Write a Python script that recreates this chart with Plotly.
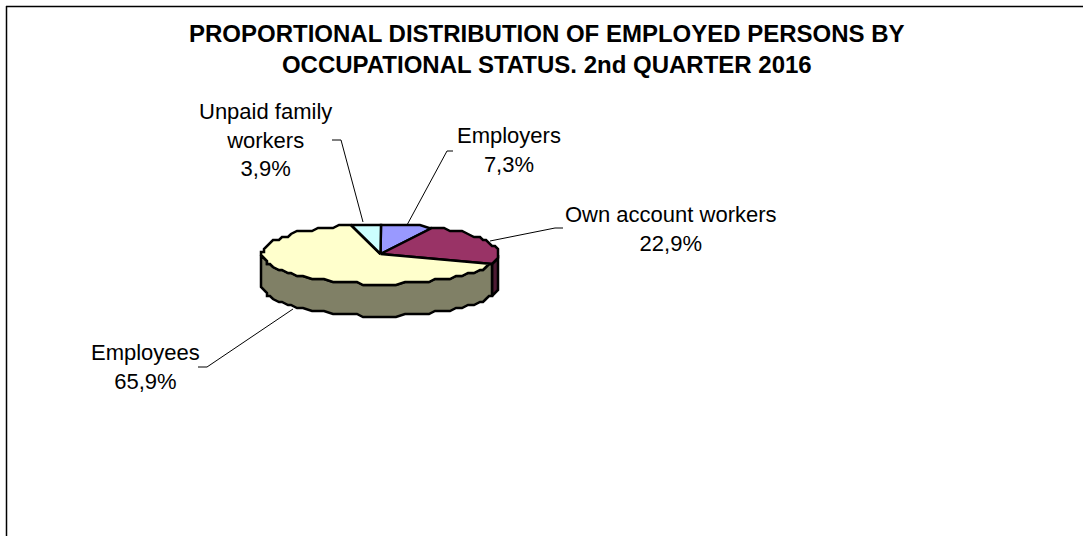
import numpy as np
import plotly.graph_objects as go

categories = ["Employers", "Own account workers", "Employees", "Unpaid family workers"]
values = [7.3, 22.9, 65.9, 3.9]
label_lines = ["Employers<br>7,3%", "Own account workers<br>22,9%", "Employees<br>65,9%", "Unpaid family<br>workers<br>3,9%"]
top_colors = ["#9999FF", "#993366", "#FFFFCC", "#CCFFFF"]
side_colors = ["#4D4D80", "#4D1A33", "#808066", "#668080"]
label_pos = [(509, 150), (671, 229), (145, 367), (265, 140)]
leaders = [
    [(453, 151), (447, 151), (407, 225)],
    [(563, 228), (555, 228), (490, 241)],
    [(198, 367), (207, 367), (293, 309)],
    [(332, 140), (341, 140), (363, 222)],
]
title_text = "PROPORTIONAL DISTRIBUTION OF EMPLOYED PERSONS BY<br>OCCUPATIONAL STATUS. 2nd QUARTER 2016"

CX, CY, RX, RY, DEPTH = 380.5, 254, 118.5, 30, 32
STEP = 3
ARC_STEP = 2 * np.pi / 90
INK = "#000000"


def snap(v):
    return np.round(np.asarray(v) / STEP) * STEP


def ex(a):
    return snap(CX + RX * np.sin(a))


def ey(a):
    return snap(CY - RY * np.cos(a))


def arc(lo, hi):
    inner = np.arange(np.ceil(lo / ARC_STEP + 1e-9), np.floor(hi / ARC_STEP - 1e-9) + 1) * ARC_STEP
    return np.r_[lo, inner, hi]


edges = np.cumsum([0] + values) / sum(values) * 2 * np.pi

fig = go.Figure()

# side walls: only the front half of the cylinder is visible
for i, cat in enumerate(categories):
    lo, hi = max(edges[i], np.pi / 2), min(edges[i + 1], 3 * np.pi / 2)
    if hi <= lo:
        continue
    a = arc(lo, hi)
    xs = np.r_[ex(a), ex(a[::-1]), ex(a[0])]
    ys = np.r_[ey(a), ey(a[::-1]) + DEPTH, ey(a[0])]
    fig.add_trace(go.Scatter(x=xs, y=ys, mode="lines", fill="toself", fillcolor=side_colors[i],
                             line=dict(color=INK, width=2.5), hoverinfo="skip", showlegend=False))

# top faces
for i, cat in enumerate(categories):
    a = arc(edges[i], edges[i + 1])
    xs = np.r_[CX, ex(a), CX]
    ys = np.r_[CY, ey(a), CY]
    fig.add_trace(go.Scatter(x=xs, y=ys, mode="lines", fill="toself", fillcolor=top_colors[i],
                             line=dict(color=INK, width=2.5), name=cat, hoverinfo="name", showlegend=False))

shapes = [dict(type="line", x0=6, y0=6.5, x1=1083, y1=6.5, line=dict(color=INK, width=1.5)),
          dict(type="line", x0=6.5, y0=6, x1=6.5, y1=536, line=dict(color=INK, width=1.5))]
for pts in leaders:
    path = "M" + " L".join(f"{x},{y}" for x, y in pts)
    shapes.append(dict(type="path", path=path, line=dict(color=INK, width=1)))

annotations = [dict(x=547, y=49, text="<b>" + title_text.replace("<br>", "</b><br><b>") + "</b>", showarrow=False,
                    font=dict(family="Liberation Sans", size=24, color=INK), align="center",
                    xanchor="center", yanchor="middle")]
for text, pos in zip(label_lines, label_pos):
    annotations.append(dict(x=pos[0], y=pos[1], text=text, showarrow=False, align="center",
                            font=dict(family="Liberation Sans", size=22, color=INK),
                            xanchor="center", yanchor="middle"))

fig.update_layout(
    width=1083, height=536, margin=dict(l=0, r=0, t=0, b=0),
    paper_bgcolor="white", plot_bgcolor="white", showlegend=False,
    xaxis=dict(range=[0, 1083], visible=False, fixedrange=True),
    yaxis=dict(range=[536, 0], visible=False, fixedrange=True),
    shapes=shapes, annotations=annotations,
)
fig.write_html("out.html", config=dict(displayModeBar=False),
               post_script="document.body.style.margin='0';document.body.style.overflow='hidden';")
